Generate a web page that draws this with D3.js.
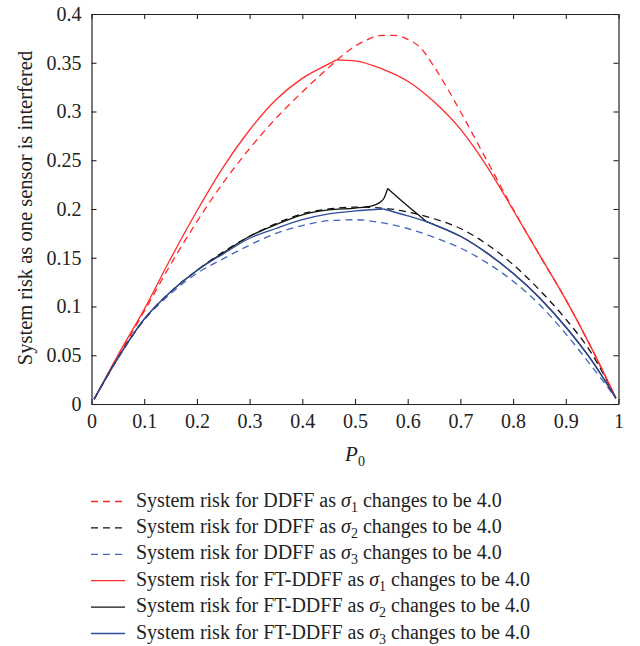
<!DOCTYPE html>
<html>
<head>
<meta charset="utf-8">
<script src="https://cdn.jsdelivr.net/npm/d3@7"></script>
<style>
  body { margin: 0; background: #fff; }
  svg { display: block; font-family: "Liberation Serif", "DejaVu Serif", serif; }
</style>
</head>
<body>
<svg id="chart" width="640" height="646"></svg>
<script>
// ---- data ----
const xTicks = [0, 0.1, 0.2, 0.3, 0.4, 0.5, 0.6, 0.7, 0.8, 0.9, 1];
const yTicks = [0, 0.05, 0.1, 0.15, 0.2, 0.25, 0.3, 0.35, 0.4];

// DDFF, sigma1 -> 4.0 (red dashed)
const ddffSigma1 = [[0.005,0.005],[0.05,0.048],[0.1,0.095],[0.15,0.143],[0.2,0.187],[0.25,0.227],[0.3,0.262],[0.35,0.293],[0.4,0.320],[0.45,0.345],[0.475,0.357],[0.5,0.367],[0.525,0.374],[0.55,0.378],[0.575,0.378],[0.6,0.374],[0.625,0.365],[0.65,0.346],[0.675,0.324],[0.7,0.300],[0.75,0.250],[0.8,0.200],[0.85,0.153],[0.9,0.107],[0.95,0.056],[0.995,0.006]];
// DDFF, sigma2 -> 4.0 (black dashed)
const ddffSigma2 = [[0.005,0.005],[0.05,0.047],[0.1,0.087],[0.15,0.115],[0.2,0.137],[0.25,0.156],[0.3,0.172],[0.35,0.185],[0.4,0.195],[0.45,0.200],[0.5,0.202],[0.55,0.201],[0.6,0.197],[0.65,0.190],[0.7,0.180],[0.75,0.164],[0.8,0.143],[0.85,0.117],[0.9,0.087],[0.95,0.051],[0.995,0.006]];
// DDFF, sigma3 -> 4.0 (blue dashed)
const ddffSigma3 = [[0.005,0.005],[0.05,0.047],[0.1,0.086],[0.15,0.113],[0.2,0.134],[0.25,0.149],[0.3,0.163],[0.35,0.175],[0.4,0.183],[0.45,0.188],[0.5,0.189],[0.55,0.186],[0.6,0.180],[0.65,0.171],[0.7,0.160],[0.75,0.145],[0.8,0.126],[0.85,0.102],[0.9,0.072],[0.95,0.038],[0.995,0.006]];
// FT-DDFF, sigma1 -> 4.0 (red solid); corner at 0.465
const ftSigma1 = [[0.005,0.005],[0.05,0.050],[0.1,0.097],[0.15,0.149],[0.2,0.198],[0.25,0.243],[0.3,0.281],[0.35,0.312],[0.4,0.334],[0.44,0.346],[0.465,0.353],[0.5,0.352],[0.55,0.344],[0.6,0.331],[0.65,0.310],[0.7,0.282],[0.75,0.244],[0.8,0.199],[0.85,0.153],[0.9,0.107],[0.95,0.056],[0.995,0.006]];
// FT-DDFF, sigma2 -> 4.0 (black solid); cusp at 0.562
const ftSigma2 = [[0.005,0.005],[0.05,0.047],[0.1,0.087],[0.15,0.115],[0.2,0.137],[0.25,0.155],[0.3,0.172],[0.35,0.184],[0.4,0.194],[0.45,0.199],[0.5,0.201],[0.53,0.203],[0.545,0.206],[0.555,0.211],[0.562,0.221],[0.6,0.203],[0.636,0.187],[0.65,0.184],[0.7,0.172],[0.75,0.155],[0.8,0.134],[0.85,0.109],[0.9,0.079],[0.95,0.044],[0.995,0.006]];
// FT-DDFF, sigma3 -> 4.0 (blue solid); corner at 0.554
const ftSigma3 = [[0.005,0.005],[0.05,0.047],[0.1,0.087],[0.15,0.115],[0.2,0.137],[0.25,0.154],[0.3,0.170],[0.35,0.180],[0.4,0.189],[0.45,0.195],[0.5,0.198],[0.554,0.200],[0.6,0.193],[0.65,0.184],[0.7,0.172],[0.75,0.155],[0.8,0.134],[0.85,0.109],[0.9,0.079],[0.95,0.044],[0.995,0.006]];

const legendMethods = ["DDFF", "DDFF", "DDFF", "FT-DDFF", "FT-DDFF", "FT-DDFF"];
const legendSigmas = ["1", "2", "3", "1", "2", "3"];

const series = [
  { data: ddffSigma1, color: "#ff2a2a", dash: "7,5", corners: [] },
  { data: ddffSigma2, color: "#111111", dash: "7,5", corners: [] },
  { data: ddffSigma3, color: "#4466bb", dash: "7,5", corners: [] },
  { data: ftSigma1, color: "#ff2a2a", dash: null, corners: [0.465] },
  { data: ftSigma2, color: "#111111", dash: null, corners: [0.562, 0.636] },
  { data: ftSigma3, color: "#2f4b9e", dash: null, corners: [0.554] }
];

// ---- layout ----
const svg = d3.select("#chart");
const x = d3.scaleLinear().domain([0, 1]).range([91.5, 618.5]);
const y = d3.scaleLinear().domain([0, 0.4]).range([404, 14]);
const fmt = d => String(+d.toFixed(2));
const axisColor = "#222";
const tickFont = 20;

function styleAxis(g) {
  g.selectAll("path.domain").attr("stroke", axisColor).attr("stroke-width", 1.2);
  g.selectAll(".tick line").attr("stroke", axisColor).attr("stroke-width", 1.1);
  g.selectAll(".tick text").attr("fill", "#222").style("font-size", tickFont + "px")
    .style("font-family", "'Liberation Serif', serif");
}

svg.append("g").attr("transform", `translate(0,${y(0)})`)
  .call(d3.axisBottom(x).tickValues(xTicks).tickFormat(fmt).tickSizeInner(-5).tickSizeOuter(0).tickPadding(10))
  .call(styleAxis);
svg.append("g").attr("transform", `translate(0,${y(0.4)})`)
  .call(d3.axisTop(x).tickValues(xTicks).tickFormat("").tickSizeInner(-5).tickSizeOuter(0))
  .call(styleAxis);
svg.append("g").attr("transform", `translate(${x(0)},0)`)
  .call(d3.axisLeft(y).tickValues(yTicks).tickFormat(fmt).tickSizeInner(-5).tickSizeOuter(0).tickPadding(10))
  .call(styleAxis);
svg.append("g").attr("transform", `translate(${x(1)},0)`)
  .call(d3.axisRight(y).tickValues(yTicks).tickFormat("").tickSizeInner(-5).tickSizeOuter(0))
  .call(styleAxis);

// ---- lines ----
const line = d3.line().x(d => x(d[0])).y(d => y(d[1])).curve(d3.curveMonotoneX);
function pieces(data, corners) {
  const out = [];
  let cur = [];
  data.forEach(p => {
    cur.push(p);
    if (corners.includes(p[0])) { out.push(cur); cur = [p]; }
  });
  if (cur.length > 1) out.push(cur);
  return out;
}
series.forEach(s => {
  pieces(s.data, s.corners).forEach(seg => {
    svg.append("path").datum(seg)
      .attr("d", line)
      .attr("fill", "none")
      .attr("stroke", s.color)
      .attr("stroke-width", 1.3)
      .attr("stroke-dasharray", s.dash)
      .attr("stroke-linejoin", "miter");
  });
});

// ---- axis titles ----
const xt = svg.append("text").attr("x", 355).attr("y", 461).attr("text-anchor", "middle")
  .style("font-size", "21px").attr("fill", "#222");
xt.append("tspan").style("font-style", "italic").text("P");
xt.append("tspan").attr("dy", 5).style("font-size", "14px").text("0");

svg.append("text")
  .attr("transform", "translate(32,208) rotate(-90)")
  .attr("text-anchor", "middle")
  .style("font-size", "20.5px").attr("fill", "#222")
  .text("System risk as one sensor is interfered");

// ---- legend ----
const legend = svg.append("g");
series.forEach((s, i) => {
  const yy = 501.5 + i * 26.4;
  legend.append("line").attr("x1", 91).attr("x2", 125).attr("y1", yy).attr("y2", yy)
    .attr("stroke", s.color).attr("stroke-width", 1.3).attr("stroke-dasharray", s.dash);
  const t = legend.append("text").attr("x", 136).attr("y", yy + 5)
    .style("font-size", "20px").attr("fill", "#222");
  t.append("tspan").text(`System risk for ${legendMethods[i]} as `);
  t.append("tspan").style("font-style", "italic").text("σ");
  t.append("tspan").attr("dy", 5).style("font-size", "14px").text(legendSigmas[i]);
  t.append("tspan").attr("dy", -5).text(" changes to be 4.0");
});
</script>
</body>
</html>
